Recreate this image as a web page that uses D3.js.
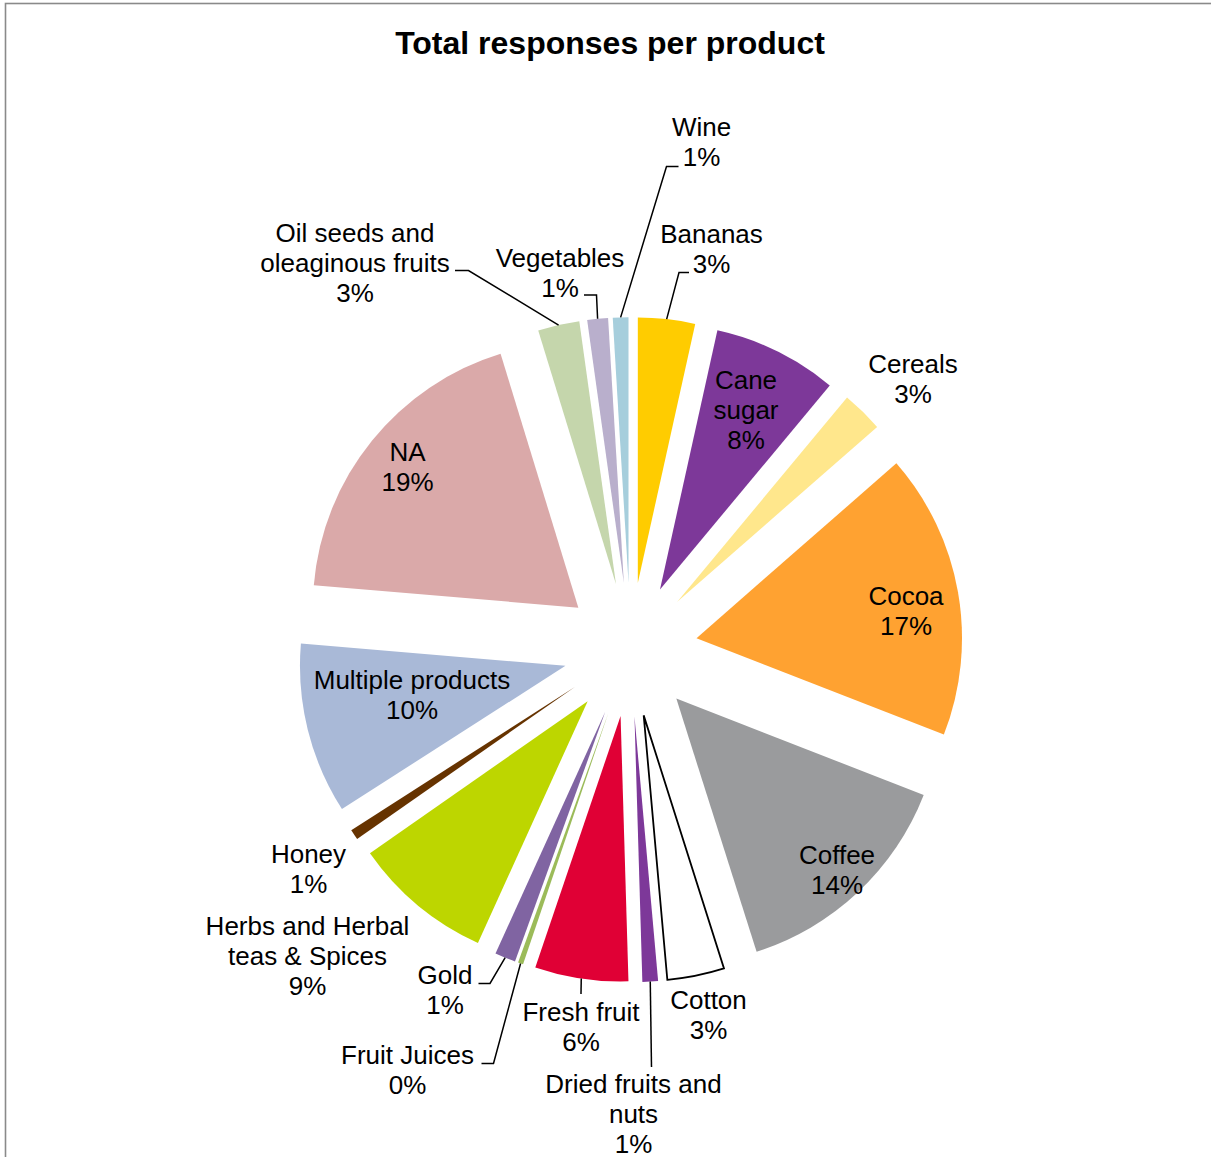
<!DOCTYPE html>
<html>
<head>
<meta charset="utf-8">
<script src="https://cdn.jsdelivr.net/npm/d3@7"></script>
<style>
  html, body { margin: 0; padding: 0; background: #fff; }
  svg { display: block; font-family: "Liberation Sans", Arial, sans-serif; }
</style>
</head>
<body>
<script>
// Survey responses per product (counts), in slice order clockwise from 12 o'clock
const categories = [
  "Bananas", "Cane sugar", "Cereals", "Cocoa", "Coffee", "Cotton",
  "Dried fruits and nuts", "Fresh fruit", "Fruit Juices", "Gold",
  "Herbs and Herbal teas & Spices", "Honey", "Multiple products", "NA",
  "Oil seeds and oleaginous fruits", "Vegetables", "Wine"
];
const responses = [11, 24, 8, 55, 45, 11, 3, 18, 1, 4, 27, 2, 33, 60, 8, 4, 3];
const sliceColors = [
  "#FFCC00", "#7D3899", "#FFE78C", "#FFA231", "#9A9B9D", "#FFFFFF",
  "#7D3899", "#E00035", "#9BBB59", "#8064A2",
  "#BDD600", "#663300", "#A9B9D7", "#DAA9A9",
  "#C5D6AC", "#B9AFCC", "#A6CEDC"
];

// Label text broken over lines
const labelLines = {
  "Cane sugar": ["Cane", "sugar"],
  "Dried fruits and nuts": ["Dried fruits and", "nuts"],
  "Herbs and Herbal teas & Spices": ["Herbs and Herbal", "teas & Spices"],
  "Oil seeds and oleaginous fruits": ["Oil seeds and", "oleaginous fruits"]
};

// Label placement: centre x, first baseline y, optional leader start / elbow
const labelLayout = {
  "Bananas": { x: 711.5, y: 242.5, leader: [[689, 272.5], [679, 272.5]] },
  "Cane sugar": { x: 746, y: 389 },
  "Cereals": { x: 913, y: 373 },
  "Cocoa": { x: 906, y: 605 },
  "Coffee": { x: 837, y: 864 },
  "Cotton": { x: 708.5, y: 1009 },
  "Dried fruits and nuts": { x: 633.5, y: 1093, leader: [[651.5, 1067], [651.5, 1067]] },
  "Fresh fruit": { x: 581, y: 1020.5, leader: [[581, 994], [581, 994]] },
  "Fruit Juices": { x: 407.5, y: 1064, leader: [[481.5, 1063.5], [493.5, 1063.5]] },
  "Gold": { x: 445, y: 984, leader: [[478.5, 983.5], [490, 983.5]] },
  "Herbs and Herbal teas & Spices": { x: 307.5, y: 935 },
  "Honey": { x: 308.5, y: 863 },
  "Multiple products": { x: 412, y: 688.5 },
  "NA": { x: 407.5, y: 461 },
  "Oil seeds and oleaginous fruits": { x: 355, y: 241.5, leader: [[455, 270.5], [468.5, 270.5]] },
  "Vegetables": { x: 560, y: 266.5, leader: [[584, 295], [596.5, 295]] },
  "Wine": { x: 701.5, y: 135.5, leader: [[678.5, 166.5], [666.5, 166.5]] }
};

const W = 1211, H = 1157;
const cx = 630.5, cy = 649.7;   // pie centre
const R = 265.5;                // slice radius
const explode = 67;             // distance every slice is pulled out
const fontSize = 26, lineGap = 30.2;

const data = categories.map((c, i) => ({ name: c, value: responses[i], color: sliceColors[i] }));
const total = d3.sum(responses);
const pct = v => Math.round(v / total * 100) + "%";

const svg = d3.select("body").append("svg")
  .attr("width", W).attr("height", H);

// chart frame (left and top edges in view)
svg.append("rect")
  .attr("x", 5.5).attr("y", 3.5)
  .attr("width", 1400).attr("height", 1400)
  .attr("fill", "none").attr("stroke", "#8a8a8a").attr("stroke-width", 1.6);

svg.append("text")
  .attr("x", 610).attr("y", 54)
  .attr("text-anchor", "middle")
  .attr("font-size", 32).attr("font-weight", "bold")
  .attr("fill", "#000")
  .text("Total responses per product");

const pie = d3.pie().sort(null).value(d => d.value).startAngle(0).endAngle(2 * Math.PI);
const arc = d3.arc().innerRadius(0).outerRadius(R);
const arcs = pie(data);

const gPie = svg.append("g").attr("transform", `translate(${cx},${cy})`);

gPie.selectAll("path")
  .data(arcs)
  .join("path")
  .attr("transform", d => {
    const m = (d.startAngle + d.endAngle) / 2;
    return `translate(${explode * Math.sin(m)},${-explode * Math.cos(m)})`;
  })
  .attr("d", arc)
  .attr("fill", d => d.data.color)
  .attr("stroke", d => d.data.name === "Cotton" ? "#000" : "none")
  .attr("stroke-width", d => d.data.name === "Cotton" ? 1.8 : 0)
  .attr("stroke-linejoin", "miter");

// leader lines from the slice rim to the label
const gLeaders = svg.append("g")
  .attr("fill", "none").attr("stroke", "#000").attr("stroke-width", 1.5);

arcs.forEach(d => {
  const lay = labelLayout[d.data.name];
  if (!lay.leader) return;
  const m = (d.startAngle + d.endAngle) / 2;
  const rim = [cx + (explode + R) * Math.sin(m), cy - (explode + R) * Math.cos(m)];
  const pts = [lay.leader[0], lay.leader[1], rim];
  gLeaders.append("path").attr("d", d3.line()(pts));
});

// labels: category lines followed by the share
const gLabels = svg.append("g")
  .attr("font-size", fontSize).attr("fill", "#000").attr("text-anchor", "middle");

arcs.forEach(d => {
  const lay = labelLayout[d.data.name];
  const lines = (labelLines[d.data.name] || [d.data.name]).concat([pct(d.data.value)]);
  const t = gLabels.append("text").attr("x", lay.x).attr("y", lay.y);
  lines.forEach((ln, i) => {
    t.append("tspan").attr("x", lay.x).attr("y", lay.y + i * lineGap).text(ln);
  });
});
</script>
</body>
</html>
